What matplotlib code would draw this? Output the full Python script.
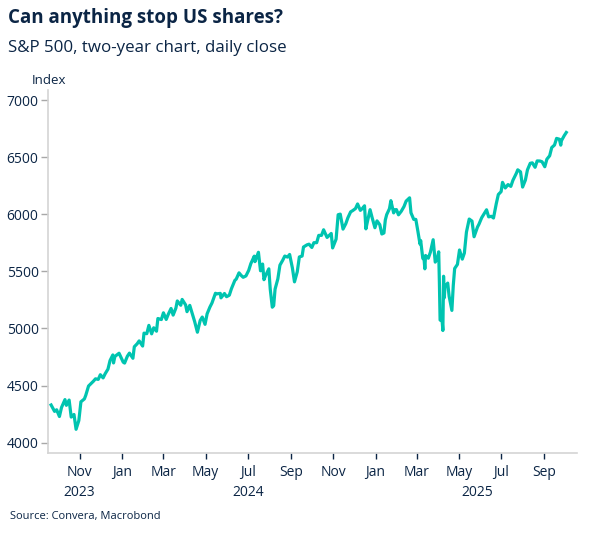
import matplotlib
matplotlib.use("Agg")
import matplotlib.pyplot as plt
import matplotlib.dates as mdates
import matplotlib.transforms as mtransforms
import pandas as pd

# S&P 500, cierre
fechas = [
    "2023-09-21", "2023-09-26", "2023-09-29", "2023-10-03", "2023-10-06", "2023-10-11",
    "2023-10-13", "2023-10-17", "2023-10-20", "2023-10-24", "2023-10-27", "2023-10-31",
    "2023-11-03", "2023-11-08", "2023-11-10", "2023-11-14", "2023-11-17", "2023-11-21",
    "2023-11-24", "2023-11-28", "2023-12-01", "2023-12-05", "2023-12-08", "2023-12-12",
    "2023-12-15", "2023-12-19", "2023-12-20", "2023-12-22", "2023-12-28",
    "2024-01-03", "2024-01-05", "2024-01-09", "2024-01-12", "2024-01-17", "2024-01-19",
    "2024-01-23", "2024-01-26", "2024-01-31", "2024-02-02", "2024-02-06", "2024-02-09",
    "2024-02-13", "2024-02-16", "2024-02-20", "2024-02-22", "2024-02-27", "2024-03-01",
    "2024-03-05", "2024-03-08", "2024-03-12", "2024-03-15", "2024-03-19", "2024-03-21",
    "2024-03-26", "2024-03-28", "2024-04-02", "2024-04-04", "2024-04-08", "2024-04-12",
    "2024-04-15", "2024-04-19", "2024-04-23", "2024-04-26", "2024-04-30", "2024-05-03",
    "2024-05-07", "2024-05-10", "2024-05-15", "2024-05-17", "2024-05-22", "2024-05-23",
    "2024-05-28", "2024-05-31", "2024-06-04", "2024-06-07", "2024-06-12", "2024-06-14",
    "2024-06-18", "2024-06-21", "2024-06-24", "2024-06-28", "2024-07-02", "2024-07-05",
    "2024-07-10", "2024-07-11", "2024-07-16", "2024-07-19", "2024-07-22", "2024-07-24",
    "2024-07-26", "2024-07-31", "2024-08-02", "2024-08-05", "2024-08-07", "2024-08-09",
    "2024-08-13", "2024-08-16", "2024-08-20", "2024-08-23", "2024-08-27", "2024-08-30",
    "2024-09-03", "2024-09-06", "2024-09-10", "2024-09-13", "2024-09-17", "2024-09-19",
    "2024-09-24", "2024-09-27", "2024-10-01", "2024-10-04", "2024-10-08", "2024-10-11",
    "2024-10-15", "2024-10-18", "2024-10-23", "2024-10-25", "2024-10-29", "2024-10-31",
    "2024-11-05", "2024-11-08", "2024-11-11", "2024-11-15", "2024-11-19", "2024-11-22",
    "2024-11-26", "2024-11-29", "2024-12-03", "2024-12-06", "2024-12-10", "2024-12-13",
    "2024-12-16", "2024-12-18", "2024-12-20", "2024-12-24", "2024-12-27", "2024-12-31",
    "2025-01-03", "2025-01-07", "2025-01-10", "2025-01-13", "2025-01-15", "2025-01-17",
    "2025-01-21", "2025-01-23", "2025-01-27", "2025-01-29", "2025-01-31", "2025-02-03",
    "2025-02-07", "2025-02-11", "2025-02-14", "2025-02-19", "2025-02-21", "2025-02-25",
    "2025-02-28", "2025-03-03", "2025-03-06", "2025-03-07", "2025-03-10", "2025-03-12",
    "2025-03-13", "2025-03-14", "2025-03-18", "2025-03-21", "2025-03-25", "2025-03-28",
    "2025-03-31", "2025-04-02", "2025-04-03", "2025-04-04", "2025-04-07", "2025-04-08",
    "2025-04-09", "2025-04-10", "2025-04-11", "2025-04-15", "2025-04-17", "2025-04-21",
    "2025-04-23", "2025-04-25", "2025-04-29", "2025-05-02", "2025-05-06", "2025-05-09",
    "2025-05-12", "2025-05-16", "2025-05-20", "2025-05-23", "2025-05-28", "2025-05-30",
    "2025-06-03", "2025-06-06", "2025-06-10", "2025-06-13", "2025-06-17", "2025-06-20",
    "2025-06-24", "2025-06-27", "2025-07-01", "2025-07-03", "2025-07-07", "2025-07-11",
    "2025-07-15", "2025-07-18", "2025-07-23", "2025-07-25", "2025-07-29", "2025-08-01",
    "2025-08-05", "2025-08-08", "2025-08-12", "2025-08-15", "2025-08-19", "2025-08-22",
    "2025-08-26", "2025-08-29", "2025-09-02", "2025-09-05", "2025-09-09", "2025-09-12",
    "2025-09-16", "2025-09-19", "2025-09-23", "2025-09-25", "2025-09-26", "2025-09-30",
    "2025-10-03",
]
cierres = [
    4330, 4274, 4288, 4229, 4308, 4377,
    4327, 4373, 4224, 4247, 4117, 4194,
    4358, 4383, 4415, 4496, 4514, 4538,
    4559, 4554, 4595, 4567, 4604, 4644,
    4719, 4768, 4698, 4755, 4783,
    4705, 4697, 4757, 4784, 4739, 4840,
    4865, 4891, 4846, 4959, 4954, 5027,
    4953, 5006, 4976, 5087, 5078, 5137,
    5079, 5124, 5175, 5117, 5179, 5241,
    5203, 5254, 5206, 5147, 5202, 5123,
    5061, 4967, 5070, 5100, 5036, 5128,
    5187, 5223, 5308, 5303, 5307, 5268,
    5306, 5278, 5291, 5347, 5421, 5432,
    5487, 5465, 5448, 5460, 5509, 5567,
    5633, 5585, 5667, 5505, 5564, 5427,
    5459, 5522, 5346, 5186, 5199, 5344,
    5434, 5554, 5597, 5634, 5625, 5648,
    5529, 5408, 5496, 5626, 5634, 5713,
    5732, 5738, 5709, 5751, 5751, 5815,
    5815, 5864, 5797, 5808, 5832, 5705,
    5782, 5996, 6001, 5870, 5917, 5969,
    6021, 6032, 6050, 6090, 6034, 6051,
    6074, 5872, 5930, 6040, 5970, 5882,
    5942, 5909, 5827, 5836, 5950, 5997,
    6049, 6119, 6012, 6039, 6041, 5995,
    6026, 6068, 6115, 6144, 6013, 5955,
    5955, 5850, 5739, 5770, 5615, 5599,
    5522, 5639, 5615, 5668, 5777, 5581,
    5612, 5671, 5397, 5074, 5062, 4982,
    5457, 5268, 5363, 5397, 5283, 5158,
    5376, 5525, 5561, 5687, 5607, 5660,
    5844, 5958, 5940, 5803, 5889, 5912,
    5970, 6000, 6039, 5977, 5982, 5967,
    6092, 6173, 6198, 6279, 6230, 6260,
    6244, 6297, 6359, 6389, 6371, 6238,
    6299, 6389, 6446, 6450, 6411, 6467,
    6466, 6460, 6416, 6482, 6512, 6584,
    6606, 6664, 6657, 6605, 6644, 6688,
    6716,
]

ticks_y = [4000, 4500, 5000, 5500, 6000, 6500, 7000]
anios = ["2023", "2024", "2025"]
pos_anios = ["2023-11-01", "2024-07-01", "2025-05-27"]

azul = "#0b2545"
verde = "#00c4b0"
gris = "#d4d4d4"

plt.rcParams["font.family"] = ["Open Sans", "DejaVu Sans"]

x = pd.to_datetime(fechas)

fig = plt.figure(figsize=(5.93, 5.35), dpi=100)
ax = fig.add_axes([0.0815, 0.1538, 0.891, 0.6780])

ax.plot(x, cierres, color=verde, linewidth=2.3, solid_joinstyle="round")

ax.set_xlim(pd.Timestamp("2023-09-17"), pd.Timestamp("2025-10-18"))
ax.set_ylim(3912, 7088)
ax.set_yticks(ticks_y)

ax.xaxis.set_major_locator(mdates.MonthLocator(bymonth=[1, 3, 5, 7, 9, 11]))
ax.xaxis.set_major_formatter(mdates.DateFormatter("%b"))

for lado in ["top", "right"]:
    ax.spines[lado].set_visible(False)
for lado in ["left", "bottom"]:
    ax.spines[lado].set_color(gris)
    ax.spines[lado].set_linewidth(1.2)

ax.tick_params(axis="y", length=5, width=1, color="#a8a8a8", labelsize=10, labelcolor=azul, pad=2)
ax.tick_params(axis="x", length=4, width=1, color=azul, labelsize=10, labelcolor=azul, pad=5)

# años debajo de los meses
trans = mtransforms.blended_transform_factory(ax.transData, fig.transFigure)
for anio, pos in zip(anios, pos_anios):
    ax.text(pd.Timestamp(pos), 1 - 492 / 535, anio, transform=trans, ha="center", va="center",
            fontsize=10, color=azul)

fig.text(0.013, 1 - 18 / 535, "Can anything stop US shares?", fontsize=13.5,
         fontweight="bold", color=azul, va="center")
fig.text(0.013, 1 - 48 / 535, "S&P 500, two-year chart, daily close", fontsize=12.2,
         color=azul, va="center")
fig.text(49 / 593, 1 - 80 / 535, "Index", fontsize=9.5, color=azul, va="center", ha="center")
fig.text(0.017, 1 - 517 / 535, "Source: Convera, Macrobond", fontsize=8, color=azul, va="center")

fig.savefig("out.png", dpi=100)
